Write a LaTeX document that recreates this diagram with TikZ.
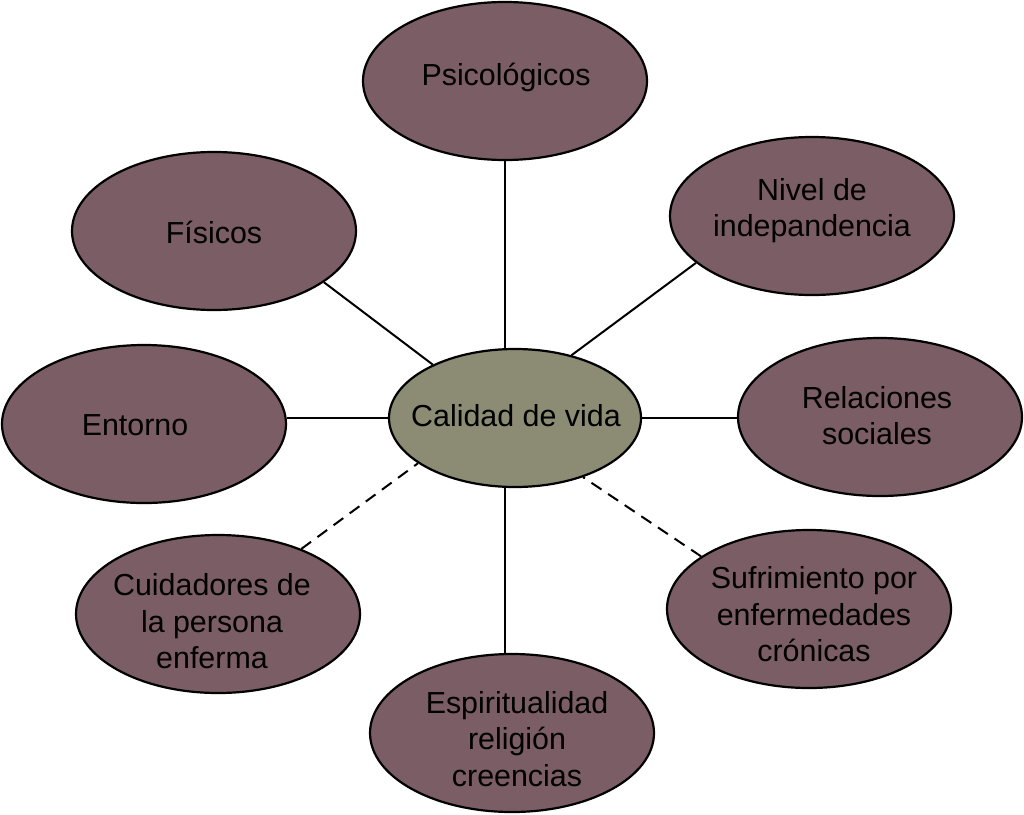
\documentclass[tikz,border=0pt]{standalone}
\usepackage{fontspec}
\setmainfont{Liberation Sans}
\usetikzlibrary{shapes.geometric}
\definecolor{mauve}{RGB}{123,93,101}
\definecolor{olive}{RGB}{140,139,115}
\begin{document}
\begin{tikzpicture}[x=1pt,y=-1pt,
  bubble/.style={ellipse,draw=black,line width=2.2pt,fill=mauve,inner sep=0pt,
    minimum width=284pt,minimum height=158pt},
  hub/.style={ellipse,draw=black,line width=2.2pt,fill=olive,inner sep=0pt,
    minimum width=252pt,minimum height=138pt},
  lbl/.style={inner sep=0pt,align=center,font=\fontsize{30.4}{36.5}\selectfont,
    execute at begin node=\strut, execute at end node=\strut},
  link/.style={line width=2pt},
  dlink/.style={line width=2pt,dash pattern=on 12pt off 8pt}]
\useasboundingbox (0,0) rectangle (1024,814);
\node[hub] (cal) at (515,418) {};
\node[bubble] (psi) at (505,81) {};
\node[bubble] (fis) at (214,231) {};
\node[bubble] (niv) at (812,216) {};
\node[bubble] (ent) at (144,424) {};
\node[bubble] (rel) at (880,417) {};
\node[bubble] (cui) at (218,614) {};
\node[bubble] (suf) at (809,609) {};
\node[bubble] (esp) at (512,733) {};
\node[lbl] (calt) at (516,419.5) {Calidad de vida};
\node[lbl] (psit) at (506,78) {Psicológicos};
\node[lbl] (fist) at (214,236) {Físicos};
\node[lbl] (nivt) at (812,213) {Nivel de\\indepandencia};
\node[lbl] (entt) at (135,428) {Entorno};
\node[lbl] (relt) at (877,421) {Relaciones\\sociales};
\node[lbl] (cuit) at (212,626.5) {Cuidadores de\\la persona\\enferma};
\node[lbl] (suft) at (814,619.5) {Sufrimiento por\\enfermedades\\crónicas};
\node[lbl] (espt) at (517,744) {Espiritualidad\\religión\\creencias};
\draw[link] (psi.south) -- (psi.south |- cal.north);
\draw[link] (psi.south |- cal.south) -- (psi.south |- esp.north);
\draw[link] (fis.-25) -- (cal.147.5);
\draw[link] (niv.202) -- (cal.48.9);
\draw[link] (cal.west) -- (cal.west -| ent.east);
\draw[link] (cal.east) -- (cal.east -| rel.west);
\draw[dlink] (cui.38.8) -- (cal.205.8);
\draw[dlink] (suf.154.7) -- (cal.-41.5);
\end{tikzpicture}
\end{document}
